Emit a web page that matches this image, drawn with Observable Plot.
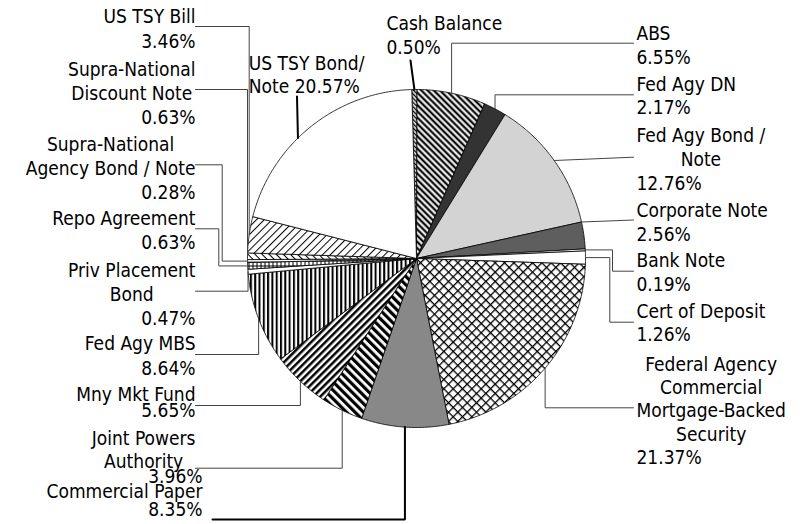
<!DOCTYPE html>
<html><head><meta charset="utf-8">
<script src="https://cdn.jsdelivr.net/npm/d3@7"></script>
<script src="https://cdn.jsdelivr.net/npm/@observablehq/plot@0.6"></script>
<style>
body{margin:0;background:#fff;}
#chart svg{display:block;}
</style></head><body>
<svg width="0" height="0" style="position:absolute">
<defs>
<pattern id="pCash" patternUnits="userSpaceOnUse" width="3" height="3" patternTransform="rotate(-45)"><rect width="3" height="3" fill="#ddd"/><rect width="1.2" height="3" fill="#000"/></pattern>
<pattern id="pAbs" patternUnits="userSpaceOnUse" width="4.4" height="4.4" patternTransform="rotate(-45)"><rect width="4.4" height="4.4" fill="#999"/><rect width="1.6" height="4.4" fill="#000"/><rect x="2.4" width="1.2" height="4.4" fill="#fff"/></pattern>
<pattern id="pCross" patternUnits="userSpaceOnUse" width="6.6" height="6.6" patternTransform="rotate(45)"><rect width="6.6" height="6.6" fill="#fff"/><rect width="1.3" height="6.6" fill="#000"/><rect width="6.6" height="1.3" fill="#000"/></pattern>
<pattern id="pDots" patternUnits="userSpaceOnUse" width="2" height="2"><rect width="2" height="2" fill="#c4c4c4"/><rect width="1" height="1" fill="#333"/><rect x="1" y="1" width="1" height="1" fill="#666"/></pattern>
<pattern id="pJpa" patternUnits="userSpaceOnUse" width="6" height="6" patternTransform="rotate(-45)"><rect width="6" height="6" fill="#fff"/><rect width="3.2" height="6" fill="#000"/></pattern>
<pattern id="pMmf" patternUnits="userSpaceOnUse" width="5" height="5" patternTransform="rotate(45)"><rect width="5" height="5" fill="#fff"/><rect width="2.5" height="5" fill="#000"/></pattern>
<pattern id="pVert" patternUnits="userSpaceOnUse" width="4.3" height="4.3"><rect width="4.3" height="4.3" fill="#fff"/><rect width="2" height="4.3" fill="#000"/></pattern>
<pattern id="pBrick" patternUnits="userSpaceOnUse" width="4" height="5"><rect width="4" height="5" fill="#fff"/><rect width="1" height="5" fill="#000"/><rect width="4" height="1" fill="#000"/></pattern>
<pattern id="pHoriz" patternUnits="userSpaceOnUse" width="3" height="3"><rect width="3" height="3" fill="#fff"/><rect width="3" height="1" fill="#555"/></pattern>
<pattern id="pBack" patternUnits="userSpaceOnUse" width="5" height="5" patternTransform="rotate(-45)"><rect width="5" height="5" fill="#fff"/><rect width="1" height="5" fill="#000"/></pattern>
<pattern id="pFwd" patternUnits="userSpaceOnUse" width="5.5" height="5.5" patternTransform="rotate(45)"><rect width="5.5" height="5.5" fill="#fff"/><rect width="1" height="5.5" fill="#000"/></pattern>
</defs></svg>
<div id="chart"></div>
<script>
// ---- data ----
const categories = ["Cash Balance","ABS","Fed Agy DN","Fed Agy Bond / Note","Corporate Note","Bank Note","Cert of Deposit","Federal Agency Commercial Mortgage-Backed Security","Commercial Paper","Joint Powers Authority","Mny Mkt Fund","Fed Agy MBS","Priv Placement Bond","Repo Agreement","Supra-National Agency Bond / Note","Supra-National Discount Note","US TSY Bill","US TSY Bond/ Note"];
const values = [0.50,6.55,2.17,12.76,2.56,0.19,1.26,21.37,8.35,3.96,5.65,8.64,0.47,0.63,0.28,0.63,3.46,20.57];
const nameLines = [["Cash Balance"],["ABS"],["Fed Agy DN"],["Fed Agy Bond /","Note"],["Corporate Note"],["Bank Note"],["Cert of Deposit"],["Federal Agency","Commercial","Mortgage-Backed","Security"],["Commercial Paper"],["Joint Powers","Authority"],["Mny Mkt Fund"],["Fed Agy MBS"],["Priv Placement","Bond"],["Repo Agreement"],["Supra-National","Agency Bond / Note"],["Supra-National","Discount Note"],["US TSY Bill"],["US TSY Bond/","Note"]];
const fills = ["url(#pCash)","url(#pAbs)","#333333","#d3d3d3","#5e5e5e","#ffffff","#ffffff","url(#pCross)","url(#pDots)","url(#pJpa)","url(#pMmf)","url(#pVert)","#ffffff","url(#pBrick)","url(#pHoriz)","url(#pBack)","url(#pFwd)","#ffffff"];

// ---- layout ----
const W = 810, H = 524;
const CX = 416, CY = 258, R = 169, START = -1.6;
const FONT = "'DejaVu Sans Condensed', 'DejaVu Sans', sans-serif";
const FS = 19;
// na: name anchor (start/end/center-on-widest with edge ne), pa/px: percentage line
const layout = [
 {ne:386, na:"start", px:386, pa:"start", ys:[29,53], from:[410,60], leader:"straight", t:0.5, thick:true},
 {ne:636, na:"start", px:636, pa:"start", ys:[39.5,63.5], from:[633,42.7], leader:"rim"},
 {ne:636, na:"start", px:636, pa:"start", ys:[90,113.5], from:[633,94.3], leader:"rim"},
 {ne:636, na:"centerL", px:636, pa:"start", ys:[141.7,165.7,189.5], from:[633,156.7], leader:"straight"},
 {ne:636, na:"start", px:636, pa:"start", ys:[216.7,240], from:[633,219.5], leader:"straight", t:0},
 {ne:636, na:"start", px:636, pa:"start", ys:[266.7,290.3], from:[633,270.7], leader:612},
 {ne:636, na:"start", px:636, pa:"start", ys:[317.3,340.5], from:[633,321.7], leader:609.3},
 {ne:636, na:"centerL", px:636, pa:"start", ys:[370,393.3,416.7,440.7,463.5], from:[633,407.3], leader:"rim"},
 {ne:202, na:"end", px:202, pa:"end", ys:[497.5,515], from:[212,519], leader:"rim", thick:true},
 {ne:195, na:"centerR", px:202, pa:"end", ys:[444,467,482], from:[195,467.7], leader:"rim"},
 {ne:195, na:"end", px:195, pa:"end", ys:[400.5,416], from:[195,405], leader:"rim"},
 {ne:195, na:"end", px:195, pa:"end", ys:[349.5,374], from:[195,354], leader:"rim"},
 {ne:195, na:"centerR", px:195, pa:"end", ys:[276,300,324], from:[195,290.7], leader:"rim"},
 {ne:195, na:"end", px:195, pa:"end", ys:[224,248.5], from:[195,228.3], leader:218.3},
 {ne:195, na:"centerR", px:195, pa:"end", ys:[150.5,174,198.5], from:[195,164.3], leader:221.7},
 {ne:195, na:"centerR", px:195, pa:"end", ys:[75.5,99,123.5], from:[195,89], leader:"rim"},
 {ne:195, na:"end", px:195, pa:"end", ys:[22.7,47], from:[195,26], leader:"rim"},
 {ne:248.3, na:"start", px:248.3, pa:"start", ys:[69,92], inline:true, from:[296.5,96], leader:"straight", t:0.42, thick:true}
];

// ---- geometry from values ----
const total = d3.sum(values);
const cum = d3.cumsum(values);
const ang = p => (START + 360 * p / total) * Math.PI / 180;
const pt = a => ({x: CX + R * Math.sin(a), y: CY - R * Math.cos(a)});
const slices = values.map((v, i) => {
  const a0 = ang(cum[i] - v), a1 = ang(cum[i]);
  const n = Math.max(2, Math.ceil((a1 - a0) / (0.5 * Math.PI / 180)));
  const pts = [{x: CX, y: CY}];
  for (let k = 0; k <= n; k++) pts.push(pt(a0 + (a1 - a0) * k / n));
  pts.push({x: CX, y: CY});
  return pts;
});
const rim = (i, t) => pt(ang(cum[i] - values[i] + t * values[i]));

// leaders
const leaders = [];
layout.forEach((L, i) => {
  const r = rim(i, L.t ?? 0.5);
  const [lx, ly] = L.from;
  let path;
  if (L.leader === "straight") path = [[lx, ly], [r.x, r.y]];
  else if (L.leader === "rim") path = [[lx, ly], [r.x, ly], [r.x, r.y]];
  else path = [[lx, ly], [L.leader, ly], [L.leader, r.y], [r.x, r.y]];
  path.forEach(([x, y]) => leaders.push({id: i, x, y, thick: !!L.thick}));
});

// text lines
const ctx = document.createElement("canvas").getContext("2d");
ctx.font = `${FS}px ${FONT}`;
const texts = [];
layout.forEach((L, i) => {
  const pct = values[i].toFixed(2) + "%";
  let names = nameLines[i].slice();
  let lines;
  if (L.inline) { names[names.length - 1] += " " + pct; lines = names; }
  else lines = names.concat([pct]);
  const nNames = L.inline ? lines.length : lines.length - 1;
  let nx = L.ne, nanchor = L.na;
  if (L.na === "centerL" || L.na === "centerR") {
    const w = d3.max(names, s => ctx.measureText(s).width);
    nx = L.na === "centerL" ? L.ne + w / 2 : L.ne - w / 2;
    nanchor = "middle";
  }
  lines.forEach((s, k) => {
    const isName = k < nNames;
    texts.push({text: s, x: isName ? nx : L.px, y: L.ys[k], anchor: isName ? nanchor : L.pa});
  });
});

const textMark = a => Plot.text(texts.filter(d => d.anchor === a), {
  x: "x", y: "y", text: "text", textAnchor: a, lineAnchor: "bottom",
  fontFamily: FONT, fontSize: FS, fill: "#000"
});

const chart = Plot.plot({
  width: W, height: H, margin: 0,
  x: {domain: [0, W], range: [0, W], axis: null},
  y: {domain: [0, H], range: [0, H], axis: null},
  style: {background: "#fff", fontFamily: FONT},
  marks: [
    ...slices.map((pts, i) => Plot.line(pts, {x: "x", y: "y", fill: fills[i], stroke: "#000", strokeWidth: 0.8, strokeLinejoin: "miter"})),
    Plot.line(leaders.filter(d => !d.thick), {x: "x", y: "y", z: "id", stroke: "#444", strokeWidth: 1, strokeLinejoin: "miter"}),
    Plot.line(leaders.filter(d => d.thick), {x: "x", y: "y", z: "id", stroke: "#000", strokeWidth: 2, strokeLinejoin: "miter"}),
    textMark("start"), textMark("middle"), textMark("end")
  ]
});
document.getElementById("chart").appendChild(chart);
</script>
</body></html>
